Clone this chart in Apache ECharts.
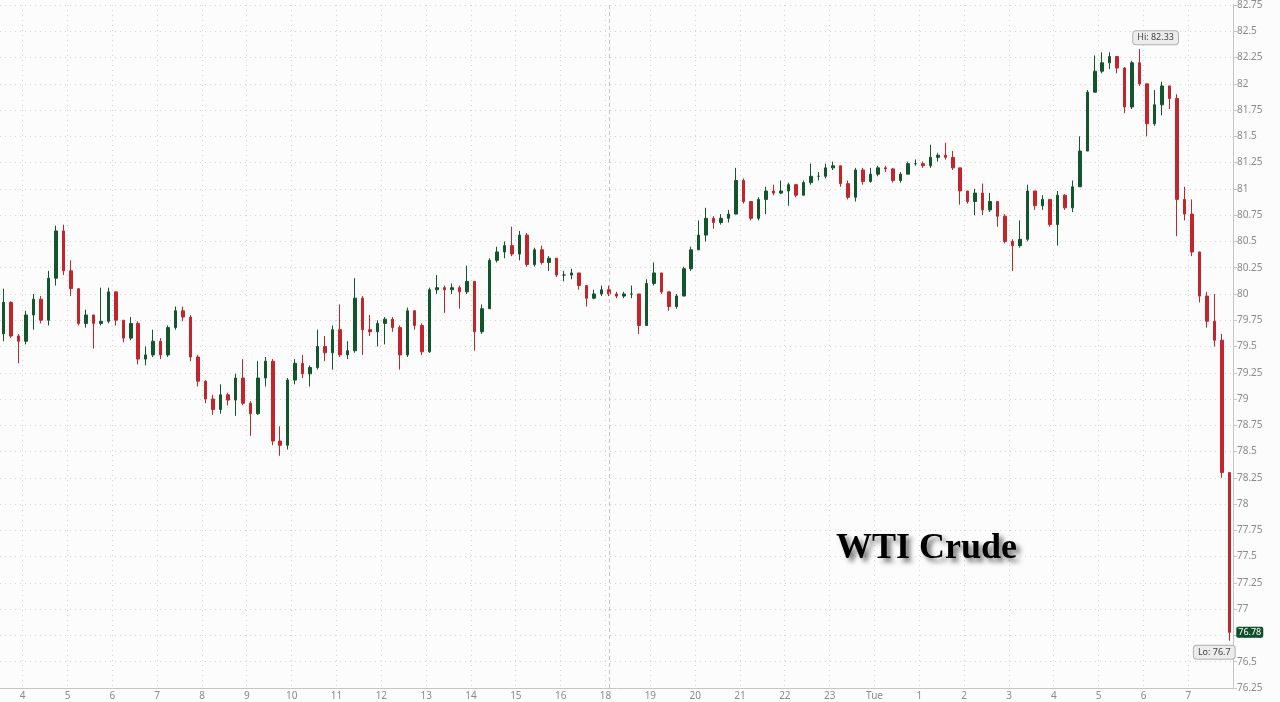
<!DOCTYPE html>
<html>
<head>
<meta charset="utf-8">
<title>WTI Crude</title>
<script src="https://cdn.jsdelivr.net/npm/echarts@6/dist/echarts.min.js"></script>
<style>
  html, body { margin: 0; padding: 0; background: #fcfcfc; }
  #chart { width: 1280px; height: 702px; }
</style>
</head>
<body>
<div id="chart"></div>
<script>
// 10-minute bars, 03:30 -> 07:50 next day (no 17:00 hour, maintenance break)
var sessionHours = [3, 4, 5, 6, 7, 8, 9, 10, 11, 12, 13, 14, 15, 16, 18, 19, 20, 21, 22, 23, 0, 1, 2, 3, 4, 5, 6, 7];
var barMinutes = [0, 10, 20, 30, 40, 50];

var firstOpen = 79.62;
var closes = [
  79.92, 79.60, 79.55, 79.80, 79.95, 79.75, 80.15, 80.60, 80.22, 80.05,
  79.72, 79.80, 79.72, 79.74, 80.02, 79.75, 79.58, 79.72, 79.38, 79.42,
  79.55, 79.42, 79.68, 79.84, 79.78, 79.40, 79.17, 79.00, 78.90, 79.04,
  78.99, 79.20, 78.96, 78.86, 79.20, 79.36, 78.60, 78.56, 79.18, 79.34,
  79.24, 79.30, 79.50, 79.44, 79.66, 79.42, 79.46, 79.96, 79.66, 79.64,
  79.72, 79.76, 79.68, 79.42, 79.84, 79.70, 79.45, 80.04, 80.06, 80.04,
  80.06, 80.02, 80.12, 79.64, 79.86, 80.32, 80.40, 80.46, 80.38, 80.56,
  80.28, 80.42, 80.30, 80.34, 80.18, 80.18, 80.20, 80.08, 79.96, 80.00,
  80.04, 80.00, 79.98, 80.00, 80.00, 79.70, 80.10, 80.20, 80.02, 79.88,
  79.98, 80.24, 80.42, 80.56, 80.72, 80.68, 80.72, 80.76, 81.08, 80.88,
  80.72, 80.90, 80.98, 80.96, 80.98, 81.04, 80.94, 81.06, 81.12, 81.12,
  81.20, 81.22, 81.05, 80.92, 81.18, 81.07, 81.14, 81.20, 81.19, 81.08,
  81.14, 81.24, 81.24, 81.22, 81.30, 81.32, 81.30, 81.20, 80.98, 80.88,
  80.96, 80.80, 80.88, 80.74, 80.50, 80.46, 80.52, 80.98, 80.84, 80.90,
  80.66, 80.94, 80.82, 81.02, 81.36, 81.92, 82.12, 82.20, 82.26, 82.15,
  81.78, 82.20, 82.00, 81.62, 81.80, 81.98, 81.86, 80.90, 80.76, 80.40,
  79.98, 79.74, 79.56, 78.30, 76.78
];
var highs = [
  80.05, 79.93, 79.62, 79.84, 80.00, 79.98, 80.22, 80.65, 80.66, 80.32,
  80.00, 79.85, 79.80, 80.06, 80.06, 80.00, 79.75, 79.78, 79.74, 79.50,
  79.66, 79.58, 79.70, 79.88, 79.88, 79.80, 79.42, 79.18, 79.04, 79.14,
  79.06, 79.24, 79.38, 78.98, 79.36, 79.40, 79.38, 78.74, 79.20, 79.38,
  79.42, 79.32, 79.66, 79.60, 79.70, 79.90, 79.55, 80.15, 79.98, 79.80,
  79.75, 79.78, 79.78, 79.70, 79.87, 79.84, 79.72, 80.06, 80.18, 80.08,
  80.10, 80.08, 80.27, 80.12, 79.90, 80.34, 80.45, 80.50, 80.64, 80.60,
  80.58, 80.44, 80.46, 80.36, 80.34, 80.22, 80.24, 80.20, 80.08, 80.04,
  80.08, 80.08, 80.02, 80.02, 80.08, 80.00, 80.14, 80.30, 80.20, 80.02,
  80.00, 80.26, 80.45, 80.70, 80.82, 80.74, 80.76, 80.80, 81.20, 81.10,
  80.88, 80.92, 81.02, 81.04, 81.08, 81.06, 81.04, 81.08, 81.24, 81.16,
  81.24, 81.26, 81.22, 81.08, 81.20, 81.20, 81.20, 81.22, 81.22, 81.20,
  81.16, 81.26, 81.28, 81.26, 81.42, 81.34, 81.44, 81.36, 81.20, 80.98,
  81.00, 81.05, 80.96, 80.88, 80.76, 80.52, 80.70, 81.04, 80.98, 80.94,
  80.90, 80.98, 80.95, 81.08, 81.50, 81.94, 82.27, 82.30, 82.30, 82.26,
  82.16, 82.22, 82.33, 82.00, 81.94, 82.02, 81.98, 81.90, 81.02, 80.90,
  80.24, 80.02, 80.00, 79.62, 78.30
];
var lows = [
  79.55, 79.58, 79.34, 79.52, 79.66, 79.72, 79.70, 80.08, 80.18, 79.98,
  79.70, 79.68, 79.48, 79.70, 79.72, 79.70, 79.54, 79.56, 79.33, 79.32,
  79.40, 79.38, 79.40, 79.66, 79.74, 79.36, 79.12, 78.96, 78.85, 78.86,
  78.94, 78.84, 78.94, 78.65, 78.85, 79.12, 78.56, 78.46, 78.52, 79.14,
  79.20, 79.12, 79.28, 79.36, 79.28, 79.40, 79.38, 79.44, 79.42, 79.60,
  79.50, 79.52, 79.64, 79.28, 79.40, 79.66, 79.42, 79.44, 80.00, 79.82,
  80.00, 79.86, 80.00, 79.46, 79.62, 79.86, 80.30, 80.34, 80.36, 80.32,
  80.26, 80.26, 80.28, 80.22, 80.16, 80.12, 80.14, 80.04, 79.88, 79.95,
  79.98, 79.98, 79.96, 79.96, 79.96, 79.62, 79.70, 80.08, 80.00, 79.84,
  79.86, 79.98, 80.22, 80.42, 80.50, 80.62, 80.66, 80.68, 80.76, 80.86,
  80.70, 80.70, 80.76, 80.94, 80.95, 80.84, 80.92, 80.94, 81.04, 81.08,
  81.10, 81.18, 81.02, 80.90, 80.88, 81.04, 81.06, 81.12, 81.16, 81.06,
  81.06, 81.14, 81.22, 81.20, 81.20, 81.26, 81.28, 81.18, 80.85, 80.86,
  80.75, 80.75, 80.78, 80.64, 80.48, 80.22, 80.44, 80.50, 80.80, 80.80,
  80.64, 80.46, 80.80, 80.78, 81.02, 81.36, 81.92, 82.10, 82.14, 82.10,
  81.72, 81.76, 81.98, 81.50, 81.60, 81.70, 81.76, 80.55, 80.70, 80.36,
  79.92, 79.68, 79.50, 78.25, 76.70
];
var lastPrice = 76.78;
var breakTime = '18:00';

// y axis
var yMin = 76.25, yMax = 82.75, yStep = 0.25;

var upColor = '#13562e';
var downColor = '#c2262c';
var gridColor = '#d4d4d4';
var labelColor = '#8a8a8a';

function pad(n) { return n < 10 ? '0' + n : '' + n; }

var categories = [];
sessionHours.forEach(function (h, k) {
  barMinutes.forEach(function (m) {
    if (k === 0 && m < 30) return;   // data starts 03:30
    categories.push(h + ':' + pad(m));
  });
});

var candles = closes.map(function (c, i) {
  var o = i === 0 ? firstOpen : closes[i - 1];
  return [o, c, lows[i], highs[i]];
});

function onHour(idx, val) {
  return /:00$/.test(val);
}

var chart = echarts.init(document.getElementById('chart'));
var option = {
  animation: false,
  backgroundColor: '#fcfcfc',
  title: {
    text: 'WTI Crude',
    left: 831,
    top: 526,
    textStyle: {
      fontFamily: "'Liberation Serif', serif",
      fontWeight: 'bold',
      fontSize: 36,
      color: '#000',
      textShadowColor: 'rgba(0,0,0,0.55)',
      textShadowBlur: 5,
      textShadowOffsetX: 4,
      textShadowOffsetY: 4
    }
  },
  grid: {
    left: 0,
    right: 47,
    top: 3,
    bottom: 14
  },
  xAxis: {
    type: 'category',
    data: categories,
    boundaryGap: true,
    axisLine: { lineStyle: { color: '#c6c6c6' } },
    axisTick: { interval: onHour, length: 3, lineStyle: { color: '#c6c6c6' } },
    axisLabel: {
      interval: onHour,
      formatter: function (val) {
        var h = parseInt(val, 10);
        return h === 0 ? 'Tue' : String(h);
      },
      color: labelColor,
      fontFamily: "'Noto Sans', sans-serif",
      fontSize: 10,
      margin: 3,
      padding: [0, 7, 0, 0]
    },
    splitLine: {
      show: true,
      interval: onHour,
      lineStyle: { color: gridColor, type: [1, 4] }
    }
  },
  yAxis: {
    type: 'value',
    position: 'right',
    min: yMin,
    max: yMax,
    interval: yStep,
    scale: true,
    axisLine: { show: true, lineStyle: { color: '#c6c6c6' } },
    axisTick: { show: true, length: 4, lineStyle: { color: '#c6c6c6' } },
    axisLabel: {
      color: labelColor,
      fontFamily: "'Noto Sans', sans-serif",
      fontSize: 10,
      margin: 4,
      formatter: function (v) { return String(+v.toFixed(2)); }
    },
    splitLine: { lineStyle: { color: gridColor, type: [1, 4] } }
  },
  series: [{
    type: 'candlestick',
    data: candles,
    barWidth: 3,
    itemStyle: {
      color: upColor,
      color0: downColor,
      borderColor: upColor,
      borderColor0: downColor,
      borderWidth: 1
    },
    markLine: {
      silent: true,
      symbol: 'none',
      label: { show: false },
      lineStyle: { color: '#c4c4c4', type: [4, 3], width: 1 },
      data: [{ xAxis: breakTime }]
    },
    markPoint: {
      symbolSize: 0,
      silent: true,
      data: [
        {
          type: 'max', valueDim: 'highest',
          label: {
            position: 'top', distance: 5, offset: [16, 0],
            formatter: 'Hi: {c}',
            color: '#444', fontSize: 9, fontFamily: "'Noto Sans', sans-serif",
            backgroundColor: '#ececec', borderColor: '#b0b0b0', borderWidth: 1,
            borderRadius: 3, padding: [2, 4]
          }
        },
        {
          type: 'min', valueDim: 'lowest',
          label: {
            position: 'bottom', distance: 5, offset: [-15, 0],
            formatter: 'Lo: {c}',
            color: '#444', fontSize: 9, fontFamily: "'Noto Sans', sans-serif",
            backgroundColor: '#ececec', borderColor: '#b0b0b0', borderWidth: 1,
            borderRadius: 3, padding: [2, 4]
          }
        },
        {
          coord: [categories[categories.length - 1], lastPrice],
          value: lastPrice,
          label: {
            position: 'right', distance: 7,
            formatter: '{c}',
            color: '#fff', fontSize: 9, fontFamily: "'Noto Sans', sans-serif",
            backgroundColor: '#0f4f2a', borderRadius: 2, padding: [1, 2]
          }
        }
      ]
    }
  }]
};
chart.setOption(option);
</script>
</body>
</html>
